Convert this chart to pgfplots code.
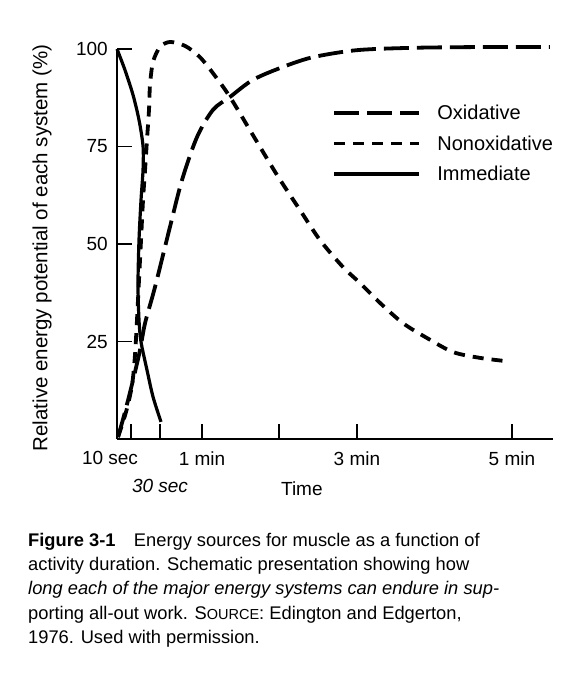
\documentclass[border=0pt]{standalone}
\usepackage{fontspec}
\setmainfont{Liberation Sans}
\usepackage{pgfplots}
\pgfplotsset{compat=1.18}

% long dash and short dash of the two dashed curves
\tikzset{
  oxid/.style={black, line width=3.8pt, dash pattern=on 25pt off 8pt},
  nonox/.style={black, line width=3.8pt, dash pattern=on 11pt off 8pt},
  immed/.style={black, line width=3.2pt},
}

\begin{document}
\begin{tikzpicture}
\path[use as bounding box] (0,0) rectangle (586pt,680pt);

\begin{axis}[
    at={(117pt,241pt)}, anchor=south west,
    scale only axis,
    width=436pt, height=390pt,
    xmin=-0.097, xmax=5.53,
    ymin=0, ymax=100,
    clip=false,
    axis lines=left,
    axis line style={-, line width=1.4pt},
    tick align=inside,
    major tick length=15pt,
    tick style={black, line width=1.2pt},
    font=\fontsize{19}{22}\selectfont,
    xtick={0.084,1,1.994,3,5},
    xticklabels={\makebox[0pt]{10 sec\hspace{42pt}}, 1 min, , 3 min, 5 min},
    xticklabel style={yshift=-9pt},
    extra x ticks={0.458},
    extra x tick labels={\textit{30 sec}},
    extra x tick style={xticklabel style={yshift=-28pt}},
    ytick={25,50,75,100},
    yticklabels={25,50,75,100},
    yticklabel style={anchor=east, inner sep=0pt, xshift=-9pt},
    xlabel={Time},
    xlabel style={at={(axis description cs:0.424,-0.128)}, anchor=center},
    ylabel={Relative energy potential of each system (\%)},
    ylabel style={at={(axis description cs:-0.172,0.49)}, anchor=center,
        font=\fontsize{20.5}{24}\selectfont},
    legend style={at={(axis description cs:0.494,0.862)}, anchor=north west,
        draw=none, fill=none, inner sep=0pt, row sep=10.5pt,
        font=\fontsize{20}{24}\selectfont, cells={anchor=west},
        /tikz/every odd column/.append style={column sep=14pt}},
    legend image code/.code={\draw[#1] (0pt,0pt) -- (85pt,0pt);},
]

% Oxidative
\addplot[oxid, smooth] coordinates {
    (-0.084,0.5) (0.006,6.9) (0.110,15.1) (0.200,22.8) (0.265,29.7)
    (0.394,39.0) (0.587,54.4) (0.742,66.4) (0.935,77.4) (1.142,84.4)
    (1.361,87.7) (1.658,92.1) (2.045,95.4) (2.432,97.9) (3.0,99.7)
    (3.72,100.3) (4.587,100.5) (5.49,100.5)
};
\addlegendentry{Oxidative}

% Nonoxidative
\addplot[nonox, smooth] coordinates {
    (-0.084,0.5) (0.019,6.9) (0.097,13.8) (0.135,21.5) (0.161,30.5)
    (0.187,40.8) (0.213,51.0) (0.239,61.3) (0.265,69.0) (0.290,76.7)
    (0.316,84.4) (0.329,90.8) (0.368,96.7) (0.458,100.5) (0.587,101.8)
    (0.781,100.8) (0.974,97.9) (1.168,93.1) (1.361,87.7) (1.658,77.9)
    (1.968,67.7) (2.265,58.7) (2.523,51.0) (2.819,44.1) (3.039,40.0)
    (3.297,34.9) (3.594,29.7) (3.903,25.9) (4.239,22.3) (4.587,20.8)
    (4.910,20.0)
};
\addlegendentry{Nonoxidative}

% Immediate
\addplot[immed, smooth] coordinates {
    (-0.097,100) (0.006,94.6) (0.110,88.2) (0.187,81.8) (0.239,75.1)
    (0.239,69.0) (0.213,61.3) (0.187,51.0) (0.174,39.5) (0.187,30.5)
    (0.213,24.9) (0.290,17.7) (0.368,10.8) (0.471,4.4)
};
\addlegendentry{Immediate}
\end{axis}

\node[anchor=north west, inner sep=0pt, align=left,
      font=\fontsize{18.3}{24.2}\selectfont] at (28pt,147pt) {%
\textbf{Figure 3-1}\quad Energy sources for muscle as a function of\\
activity duration. Schematic presentation showing how\\
\textit{long each of the major energy systems can endure in sup-}\\
porting all-out work. S{\fontsize{14.5}{17}\selectfont OURCE}: Edington and Edgerton,\\
1976. Used with permission.};
\end{tikzpicture}
\end{document}
